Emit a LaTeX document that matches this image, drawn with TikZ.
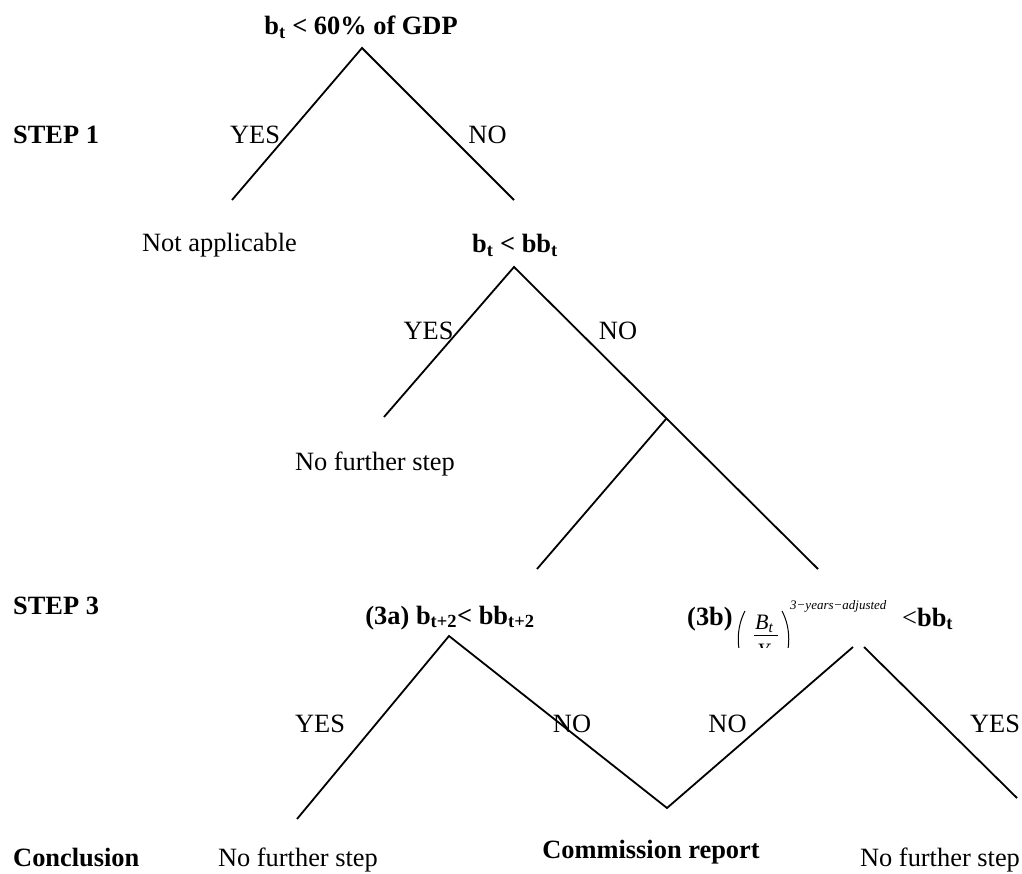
\documentclass[tikz,border=0pt]{standalone}
\usepackage{fontspec}
\setmainfont{Liberation Serif}
\begin{document}
\begin{tikzpicture}[x=1pt,y=-1pt,
  lbl/.style={inner sep=0pt, anchor=base, font=\fontsize{26.4}{30}\selectfont},
  blbl/.style={lbl, font=\fontsize{26.4}{30}\selectfont\bfseries},
  lblw/.style={lbl, anchor=base west},
  blblw/.style={blbl, anchor=base west},
  mathlbl/.style={inner sep=0pt, anchor=base west, font=\fontsize{22}{26}\selectfont\itshape},
  suplbl/.style={inner sep=0pt, anchor=base west, font=\fontsize{13}{15}\selectfont\itshape},
  branch/.style={line width=1.8pt},
  thinline/.style={line width=1pt}]
\useasboundingbox (0,0) rectangle (1022,874);

% ---- texts ----
\node[blbl] (title) at (361,35) {b\textsubscript{t} < 60\% of GDP};
\node[blblw] (step1) at (13,144) {STEP 1};
\node[lbl] (yes1) at (255,144) {YES};
\node[lbl] (no1) at (487.5,144) {NO};
\node[lbl] (notapp) at (219.5,252) {Not applicable};
\node[blbl] (bbt) at (515,253) {b\textsubscript{t} < bb\textsubscript{t}};
\node[lbl] (yes2) at (428.5,339) {YES};
\node[lbl] (no2) at (618,339) {NO};
\node[lbl] (nf1) at (375,470) {No further step};
\node[blblw] (step3) at (13,614) {STEP 3};
\node[blbl] (a3) at (450,624) {(3a) b\textsubscript{t+2}< bb\textsubscript{t+2}};
\node[blblw] (b3) at (687,625) {(3b)};
\node[suplbl] (sup) at (790,609) {3−years−adjusted};
\node[lblw] (ltbb) at (902,626) {<\textbf{bb\textsubscript{t}}};
\node[lbl] (yes3) at (320,732) {YES};
\node[lbl] (no3) at (572,732) {NO};
\node[lbl] (no4) at (727.5,732) {NO};
\node[lbl] (yes4) at (995,732) {YES};
\node[blblw] (concl) at (13,866) {Conclusion};
\node[lbl] (nf2) at (298,866) {No further step};
\node[blbl] (comm) at (651,858) {Commission report};
\node[lbl] (nf3) at (940,866) {No further step};

% ---- clipped fraction of (3b) ----
\begin{scope}
  \clip (728,595) rectangle (795,647);
  \draw[thinline] (745,611) .. controls (736,628) and (736,650) .. (745,668);
  \draw[thinline] (782,611) .. controls (791,628) and (791,650) .. (782,668);
  \node[mathlbl] (bnum) at (755,629) {B\textsubscript{t}};
  \coordinate (fb1) at (754,635);
  \coordinate (fb2) at (778,635);
  \draw[thinline] (fb1) -- (fb2);
  \node[mathlbl] (yden) at (757,658) {Y\textsubscript{t}};
\end{scope}

% ---- branch points ----
\coordinate (a0) at (362,48);
\coordinate (a1) at (232,200);
\coordinate (a2) at (514,200);
\coordinate (b0) at (514,267);
\coordinate (b1) at (384,417);
\coordinate (b2) at (818,569);
\coordinate (c0) at (666,419);
\coordinate (c1) at (537,569);
\coordinate (d0) at (449,636);
\coordinate (d1) at (297,819);
\coordinate (v) at (667,808);
\coordinate (e1) at (853,647);
\coordinate (e2) at (864,647);
\coordinate (e3) at (1017,798);

% ---- branches ----
\draw[branch] (a1) -- (a0) -- (a2);
\draw[branch] (b1) -- (b0) -- (b2);
\draw[branch] (c0) -- (c1);
\draw[branch] (d1) -- (d0) -- (v) -- (e1);
\draw[branch] (e2) -- (e3);
\end{tikzpicture}
\end{document}
